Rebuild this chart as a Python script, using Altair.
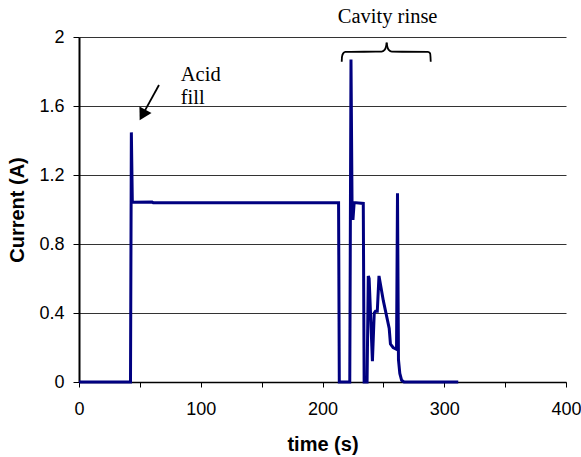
import altair as alt
import pandas as pd

# ---- data ----
time_s = [0, 42.3, 43.0, 43.8, 60.0, 61.0, 213.2, 213.8, 222.4, 223.4, 224.3, 225.0,
          226.0, 233.5, 234.2, 236.6, 237.6, 238.3, 241.0, 242.5, 243.5, 245.0, 246.4,
          250.0, 254.8, 255.8, 258.0, 260.8, 261.6, 262.4, 263.5, 265.0, 267.0, 311.5]
current_a = [0, 0, 1.447, 1.042, 1.044, 1.039, 1.039, 0, 0, 1.87, 1.0, 0.94,
             1.04, 1.035, 0, 0, 0.615, 0.6, 0.12, 0.40, 0.41, 0.41, 0.615,
             0.47, 0.31, 0.22, 0.20, 0.19, 1.094, 0.13, 0.05, 0.01, 0, 0]

x_ticks = [0, 50, 100, 150, 200, 250, 300, 350, 400]
y_ticks = [0, 0.4, 0.8, 1.2, 1.6, 2]

# annotation positions (data units)
label_text = ["Acid", "fill", "Cavity rinse"]
label_t = [83.6, 83.6, 253.5]
label_c = [1.745, 1.612, 2.081]
label_align = ["left", "left", "center"]

brace_t = [215.8, 216.0, 217.0, 218.8, 248.5, 251.0, 252.2, 252.7,
           252.7, 253.2, 254.4, 256.9, 286.6, 288.4, 288.7, 288.9]
brace_c = [1.857, 1.885, 1.905, 1.914, 1.915, 1.925, 1.945, 1.967,
           1.967, 1.945, 1.925, 1.915, 1.914, 1.905, 1.885, 1.857]
brace_part = ["L"] * 8 + ["R"] * 8

arrow_t = [65.7, 54.0]
arrow_c = [1.722, 1.572]
head_t = [53.0]
head_c = [1.558]

df = pd.DataFrame({"time": time_s, "current": current_a, "order": list(range(len(time_s)))})
df_lab = pd.DataFrame({"t": label_t, "c": label_c, "text": label_text, "align": label_align})
df_brace = pd.DataFrame({"t": brace_t, "c": brace_c, "part": brace_part,
                         "o": list(range(len(brace_t)))})
df_arrow = pd.DataFrame({"t": arrow_t, "c": arrow_c})
df_head = pd.DataFrame({"t": head_t, "c": head_c})

x_scale = alt.Scale(domain=[0, 400], nice=False, zero=False)
y_scale = alt.Scale(domain=[0, 2], nice=False)

line = alt.Chart(df).mark_line(color="#000080", strokeWidth=3).encode(
    x=alt.X("time:Q", scale=x_scale,
            axis=alt.Axis(title="time (s)", values=x_ticks, grid=False,
                          labelExpr="datum.value % 100 == 0 ? datum.label : ''",
                          domainColor="black", domainWidth=1.5,
                          tickColor="black", tickSize=5, tickWidth=1,
                          labelPadding=13, titlePadding=16,
                          labelFlush=False)),
    y=alt.Y("current:Q", scale=y_scale,
            axis=alt.Axis(title="Current (A)", values=y_ticks, format="~g",
                          grid=True, gridColor="#333333", gridWidth=1,
                          domainColor="black", domainWidth=2,
                          tickColor="black", tickSize=6, tickWidth=1,
                          labelPadding=9, titlePadding=11)),
    order="order:Q",
)

labels_left = alt.Chart(df_lab[df_lab["align"] == "left"]).mark_text(
    font="Liberation Serif", fontSize=20.5, align="left", baseline="alphabetic", color="black"
).encode(x=alt.X("t:Q", scale=x_scale), y=alt.Y("c:Q", scale=y_scale), text="text:N")

labels_center = alt.Chart(df_lab[df_lab["align"] == "center"]).mark_text(
    font="Liberation Serif", fontSize=20.5, align="center", baseline="alphabetic", color="black"
).encode(x=alt.X("t:Q", scale=x_scale), y=alt.Y("c:Q", scale=y_scale), text="text:N")

brace = alt.Chart(df_brace).mark_line(color="black", strokeWidth=1.8, interpolate="monotone").encode(
    x=alt.X("t:Q", scale=x_scale), y=alt.Y("c:Q", scale=y_scale),
    detail="part:N", order="o:Q")

arrow = alt.Chart(df_arrow).mark_line(color="black", strokeWidth=1.8).encode(
    x=alt.X("t:Q", scale=x_scale), y=alt.Y("c:Q", scale=y_scale))

head = alt.Chart(df_head).mark_point(shape="triangle", filled=True, color="black",
                                     size=190, angle=209, opacity=1).encode(
    x=alt.X("t:Q", scale=x_scale), y=alt.Y("c:Q", scale=y_scale))

chart = alt.layer(line, brace, arrow, head, labels_left, labels_center).properties(
    width=487, height=345,
    autosize=alt.AutoSizeParams(type="none"),
    padding={"left": 79, "top": 37, "right": 15, "bottom": 75},
    background="white",
).configure_view(stroke=None).configure_axis(
    labelFont="Liberation Sans", labelFontSize=18, labelColor="black",
    titleFont="Liberation Sans", titleFontSize=20, titleFontWeight="bold", titleColor="black",
)

chart.save("out.html", embed_options={"renderer": "svg", "actions": False})
